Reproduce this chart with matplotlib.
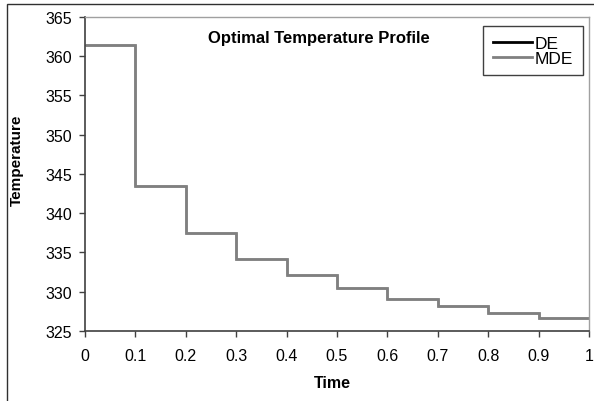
import matplotlib
matplotlib.use("Agg")
import matplotlib.pyplot as plt
from matplotlib.patches import Rectangle

# Piecewise-constant temperature profile over ten time intervals
time_edges = [0.0, 0.1, 0.2, 0.3, 0.4, 0.5, 0.6, 0.7, 0.8, 0.9, 1.0]
temp_de = [361.4, 343.4, 337.5, 334.2, 332.1, 330.5, 329.1, 328.2, 327.3, 326.7]
temp_mde = [361.4, 343.4, 337.5, 334.2, 332.1, 330.5, 329.1, 328.2, 327.3, 326.7]
x_ticks = [0, 0.1, 0.2, 0.3, 0.4, 0.5, 0.6, 0.7, 0.8, 0.9, 1]
x_tick_labels = ["0", "0.1", "0.2", "0.3", "0.4", "0.5", "0.6", "0.7", "0.8", "0.9", "1"]
y_ticks = [325, 330, 335, 340, 345, 350, 355, 360, 365]

plt.rcParams["font.family"] = ["Liberation Sans", "DejaVu Sans"]

W, H = 594, 402
fig = plt.figure(figsize=(W / 100, H / 100), dpi=100)
fig.patch.set_facecolor("white")

# outer chart frame
fig.add_artist(Rectangle((6.5 / W, -0.05), 1.2, (H - 4.5) / H + 0.05,
                         transform=fig.transFigure, fill=False,
                         edgecolor="#303030", linewidth=1.0))

ax = fig.add_axes([85 / W, (H - 332) / H, 504 / W, (332 - 17.7) / H])
ax.set_facecolor("white")

ax.stairs(temp_de, time_edges, baseline=None, color="black", linewidth=1.0, label="DE")
ax.stairs(temp_mde, time_edges, baseline=None, color="#808080", linewidth=2.0, label="MDE")

ax.set_xlim(0, 1)
ax.set_ylim(325, 365)
ax.set_xticks(x_ticks)
ax.set_xticklabels(x_tick_labels)
ax.set_yticks(y_ticks)

for side in ("left", "bottom"):
    ax.spines[side].set_color("#404040")
    ax.spines[side].set_linewidth(1.2)
for side in ("top", "right"):
    ax.spines[side].set_color("#a0a0a0")
    ax.spines[side].set_linewidth(1.0)

ax.tick_params(axis="both", direction="out", length=4.5, width=1.0,
               color="#404040", labelsize=11.5, labelcolor="black")
ax.tick_params(axis="x", pad=8)
ax.tick_params(axis="y", pad=5)

fig.text(17 / W, 1 - 160 / H, "Temperature", rotation=90, ha="center", va="center",
         fontsize=11, fontweight="bold")
fig.text(332 / W, 1 - 384 / H, "Time", ha="center", va="center",
         fontsize=11.5, fontweight="bold")
fig.text(319 / W, 1 - 39 / H, "Optimal Temperature Profile", ha="center", va="center",
         fontsize=12, fontweight="bold")

leg = ax.legend(loc="upper right", bbox_to_anchor=(583 / W, 1 - 27 / H),
                bbox_transform=fig.transFigure, frameon=True, fancybox=False,
                framealpha=1, edgecolor="#404040", fontsize=12.5,
                handlelength=2.3, handletextpad=0.15, labelspacing=0.0,
                borderpad=0.55, borderaxespad=0)
leg.get_frame().set_linewidth(1.0)
for line in leg.get_lines():
    line.set_linewidth(2.0)

fig.savefig("out.png", dpi=100)
